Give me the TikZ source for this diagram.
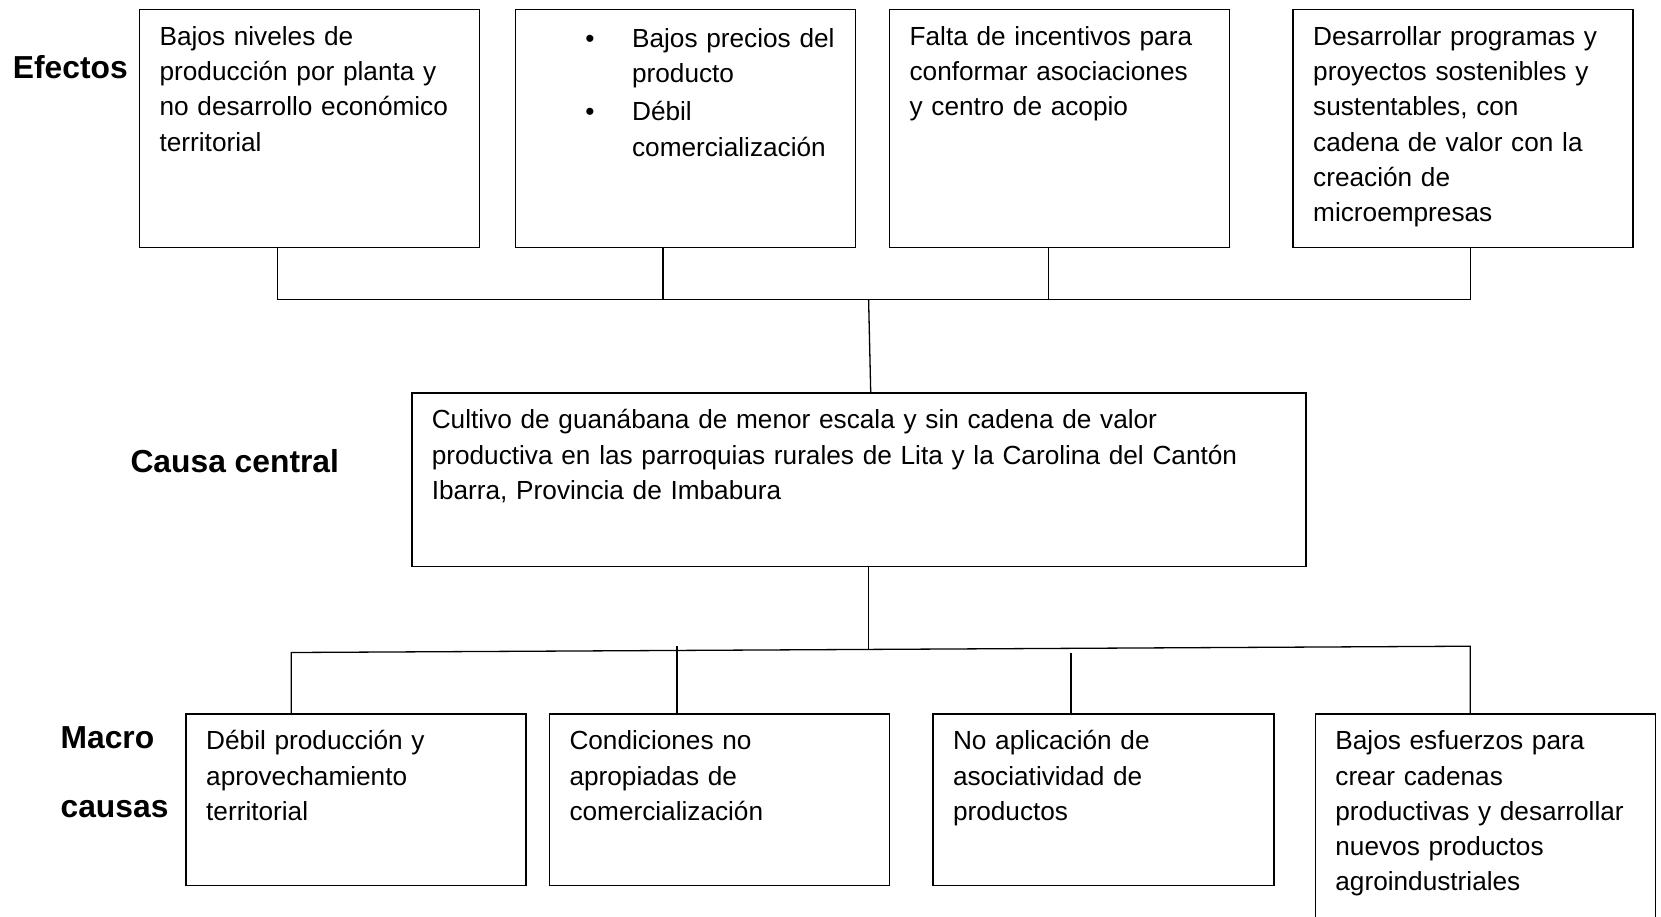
\documentclass[tikz,border=0pt]{standalone}
\usepackage{fontspec}
\setmainfont{Liberation Sans}
\begin{document}
\begin{tikzpicture}[x=1pt,y=-1pt,
  caja/.style={draw, line width=1.6pt, anchor=north west, inner xsep=20pt, inner ysep=0pt,
    text width=300pt, align=left, text height=36pt, font=\fontsize{26.2}{35.3}\selectfont},
  rotulo/.style={anchor=base west, inner sep=0pt, font=\fontsize{31.8}{38}\selectfont\bfseries},
  linea/.style={line width=1.3pt}]
\useasboundingbox (0,0) rectangle (1661,916);
% rotulos
\node[rotulo] (efectos) at (12.7,78.4) {Efectos};
\node[rotulo] (causa) at (130.3,472) {Causa central};
\node[rotulo] (macro) at (60.4,748) {Macro};
\node[rotulo] (causas) at (60.4,817) {causas};
% efectos
\node[caja, text depth=202.3pt] (e1) at (138.8,8.5) {Bajos niveles de\\producci\'on por planta y\\no desarrollo econ\'omico\\territorial};
\node[caja, text width=320pt, inner xsep=10pt, text height=38pt, text depth=200.3pt] (e2) at (514.8,8.5) {%
  \makebox[106.5pt][l]{\hspace*{59.7pt}\textbullet}Bajos precios del\\
  \makebox[106.5pt]{}producto\\[3pt]
  \makebox[106.5pt][l]{\hspace*{59.7pt}\textbullet}Débil\\
  \makebox[106.5pt]{}comercialización};
\node[caja, text depth=202.3pt] (e3) at (888.8,8.5) {Falta de incentivos para\\conformar asociaciones\\y centro de acopio};
\node[caja, text depth=202.3pt] (e4) at (1292.4,8.5) {Desarrollar programas y\\proyectos sostenibles y\\sustentables, con\\cadena de valor con la\\creación de\\microempresas};
% causa central
\node[caja, text width=854pt, text depth=137.7pt] (central) at (411,392) {Cultivo de guanábana de menor escala y sin cadena de valor\\productiva en las parroquias rurales de Lita y la Carolina del Cantón\\Ibarra, Provincia de Imbabura};
% macro causas
\node[caja, text depth=135.6pt] (m1) at (185.4,712.9) {Débil producción y\\aprovechamiento\\territorial};
\node[caja, text depth=135.6pt] (m2) at (548.7,712.9) {Condiciones no\\apropiadas de\\comercialización};
\node[caja, text width=301pt, text depth=135.6pt] (m3) at (932.2,712.9) {No aplicación de\\asociatividad de\\productos};
\node[caja, text depth=200pt] (m4) at (1314.6,712.9) {Bajos esfuerzos para\\crear cadenas\\productivas y desarrollar\\nuevos productos\\agroindustriales};
% conectores de arriba
\coordinate (te1) at (277.5,299.8);
\coordinate (te2) at (663.1,299.8);
\coordinate (te3) at (1048.7,299.8);
\coordinate (te4) at (1470.3,299.8);
\coordinate (tc) at (868.6,299.8);
\coordinate (cn) at (870.7,0);
\draw[linea] (te1 |- e1.south) -- (te1) -- (te4) -- (te4 |- e4.south);
\draw[linea] (te2 |- e2.south) -- (te2);
\draw[linea] (te3 |- e3.south) -- (te3);
\draw[linea] (tc) -- (cn |- central.north);
% conectores de abajo
\coordinate (cb) at (868.6,649.4);
\coordinate (bm1) at (291.3,652.5);
\coordinate (bm2) at (676.9,646.2);
\coordinate (bm3) at (1071,652.5);
\coordinate (bm4) at (1470.3,646.2);
\draw[linea] (cb |- central.south) -- (cb);
\draw[linea] (bm1 |- m1.north) -- (bm1) -- (bm4) -- (bm4 |- m4.north);
\draw[linea] (bm2) -- (bm2 |- m2.north);
\draw[linea] (bm3) -- (bm3 |- m3.north);
\end{tikzpicture}
\end{document}
